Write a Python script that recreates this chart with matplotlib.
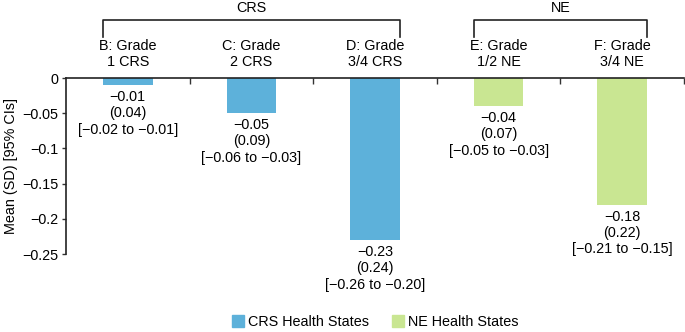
import matplotlib
matplotlib.use("Agg")
import matplotlib.pyplot as plt
from matplotlib.patches import Patch
import matplotlib.transforms as mtransforms

plt.rcParams['font.family'] = ['Liberation Sans', 'DejaVu Sans']
plt.rcParams['axes.unicode_minus'] = True

categories = ["B: Grade\n1 CRS", "C: Grade\n2 CRS", "D: Grade\n3/4 CRS",
              "E: Grade\n1/2 NE", "F: Grade\n3/4 NE"]
means = [-0.01, -0.05, -0.23, -0.04, -0.18]
sds = ["0.04", "0.09", "0.24", "0.07", "0.22"]
cis = ["[\u22120.02 to \u22120.01]", "[\u22120.06 to \u22120.03]",
       "[\u22120.26 to \u22120.20]", "[\u22120.05 to \u22120.03]",
       "[\u22120.21 to \u22120.15]"]
groups = ["CRS", "CRS", "CRS", "NE", "NE"]
yticks = [0, -0.05, -0.1, -0.15, -0.2, -0.25]
ytick_labels = ["0", "\u22120.05", "\u22120.1", "\u22120.15", "\u22120.2", "\u22120.25"]

colors = {"CRS": "#5db1da", "NE": "#c9e692"}
bar_w = 0.4
fs = 10.4

fig = plt.figure(figsize=(6.85, 3.32), dpi=100)
ax = fig.add_axes([66 / 685, 1 - 254 / 332, 618 / 685, 176 / 332])

x = list(range(len(means)))
ax.bar(x, means, width=bar_w, color=[colors[g] for g in groups], zorder=2)

for i, m in enumerate(means):
    ax.annotate("\u2212%.2f\n(%s)\n%s" % (abs(m), sds[i], cis[i]),
                xy=(i, m), xytext=(0, -3.5), textcoords="offset points",
                ha="center", va="top", fontsize=fs, linespacing=1.22)

ax.set_xlim(-0.5, 4.5)
ax.set_ylim(-0.25, 0)
ax.set_yticks(yticks)
ax.set_yticklabels(ytick_labels, fontsize=fs)
ax.set_ylabel("Mean (SD) [95% CIs]", fontsize=fs, labelpad=3)

ax.xaxis.tick_top()
ax.set_xticks([0.5, 1.5, 2.5, 3.5, 4.5])
ax.set_xticklabels([])
ax.tick_params(axis="x", direction="in", length=4, width=1, color="#333333")
ax.tick_params(axis="y", direction="out", length=3, width=1, color="#333333",
               pad=2.5)
ax.spines["right"].set_visible(False)
ax.spines["bottom"].set_visible(False)
for s in ["top", "left"]:
    ax.spines[s].set_linewidth(1.2)
    ax.spines[s].set_color("#222222")

trans = mtransforms.blended_transform_factory(ax.transData, ax.transAxes)
for i, lab in enumerate(categories):
    ax.text(i, 1.135, lab, transform=trans, ha="center", va="center",
            fontsize=fs, linespacing=1.22)

# group brackets
for g, idx in [("CRS", [0, 1, 2]), ("NE", [3, 4])]:
    x0 = idx[0] - bar_w / 2
    x1 = idx[-1] + bar_w / 2
    ax.plot([x0, x0, x1, x1], [1.235, 1.33, 1.33, 1.235], transform=trans,
            color="#222222", lw=1.2, clip_on=False)
    ax.text((x0 + x1) / 2, 1.40, g, transform=trans, ha="center",
            va="center", fontsize=fs)

handles = [Patch(color=colors["CRS"], label="CRS Health States"),
           Patch(color=colors["NE"], label="NE Health States")]
ax.legend(handles=handles, loc="center", bbox_to_anchor=(0.5, -0.385),
          ncol=2, frameon=False, fontsize=fs, handlelength=0.85,
          handleheight=0.85, handletextpad=0.25, columnspacing=1.6)

fig.savefig("out.png", dpi=100)
